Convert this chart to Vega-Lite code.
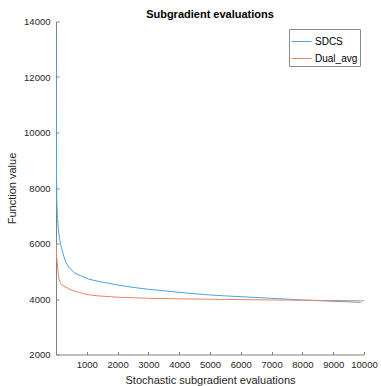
{
  "$schema": "https://vega.github.io/schema/vega-lite/v6.json",
  "width": 308,
  "height": 333,
  "autosize": {"type": "none"},
  "padding": {"left": 56, "top": 21.5, "right": 17, "bottom": 31.5},
  "background": "white",
  "config": {
    "font": "Liberation Sans",
    "view": {"stroke": null},
    "axis": {"grid": false, "domainColor": "#808080", "tickColor": "#808080", "labelColor": "#262626", "titleColor": "#262626", "labelFontSize": 9.5, "titleFontSize": 11, "titleFontWeight": "normal", "tickSize": -3, "domainWidth": 1, "tickWidth": 1, "labelOverlap": false, "labelFlush": false}
  },
  "title": {"text": "Subgradient evaluations", "fontSize": 11, "fontWeight": "bold", "color": "#000000", "offset": -3, "anchor": "middle"},
  "data": {"values": [
    {"x": 1, "y": 13450, "s": "SDCS"},
    {"x": 8, "y": 10500, "s": "SDCS"},
    {"x": 18, "y": 8400, "s": "SDCS"},
    {"x": 28, "y": 7450, "s": "SDCS"},
    {"x": 50, "y": 6900, "s": "SDCS"},
    {"x": 80, "y": 6480, "s": "SDCS"},
    {"x": 120, "y": 6150, "s": "SDCS"},
    {"x": 170, "y": 5880, "s": "SDCS"},
    {"x": 250, "y": 5550, "s": "SDCS"},
    {"x": 330, "y": 5300, "s": "SDCS"},
    {"x": 450, "y": 5100, "s": "SDCS"},
    {"x": 620, "y": 4930, "s": "SDCS"},
    {"x": 800, "y": 4840, "s": "SDCS"},
    {"x": 1050, "y": 4720, "s": "SDCS"},
    {"x": 1400, "y": 4630, "s": "SDCS"},
    {"x": 1750, "y": 4560, "s": "SDCS"},
    {"x": 2000, "y": 4506, "s": "SDCS"},
    {"x": 2500, "y": 4420, "s": "SDCS"},
    {"x": 3000, "y": 4350, "s": "SDCS"},
    {"x": 3500, "y": 4295, "s": "SDCS"},
    {"x": 4000, "y": 4242, "s": "SDCS"},
    {"x": 4500, "y": 4190, "s": "SDCS"},
    {"x": 5000, "y": 4145, "s": "SDCS"},
    {"x": 5500, "y": 4112, "s": "SDCS"},
    {"x": 6000, "y": 4084, "s": "SDCS"},
    {"x": 6500, "y": 4055, "s": "SDCS"},
    {"x": 7000, "y": 4025, "s": "SDCS"},
    {"x": 7500, "y": 3995, "s": "SDCS"},
    {"x": 8000, "y": 3964, "s": "SDCS"},
    {"x": 8500, "y": 3940, "s": "SDCS"},
    {"x": 9000, "y": 3917, "s": "SDCS"},
    {"x": 9500, "y": 3898, "s": "SDCS"},
    {"x": 9900, "y": 3880, "s": "SDCS"},
    {"x": 0, "y": 6015, "s": "Dual_avg"},
    {"x": 10, "y": 5700, "s": "Dual_avg"},
    {"x": 25, "y": 5450, "s": "Dual_avg"},
    {"x": 45, "y": 5290, "s": "Dual_avg"},
    {"x": 70, "y": 4950, "s": "Dual_avg"},
    {"x": 100, "y": 4700, "s": "Dual_avg"},
    {"x": 150, "y": 4560, "s": "Dual_avg"},
    {"x": 200, "y": 4500, "s": "Dual_avg"},
    {"x": 295, "y": 4445, "s": "Dual_avg"},
    {"x": 450, "y": 4340, "s": "Dual_avg"},
    {"x": 675, "y": 4264, "s": "Dual_avg"},
    {"x": 900, "y": 4190, "s": "Dual_avg"},
    {"x": 1107, "y": 4145, "s": "Dual_avg"},
    {"x": 1400, "y": 4110, "s": "Dual_avg"},
    {"x": 1756, "y": 4083, "s": "Dual_avg"},
    {"x": 2000, "y": 4065, "s": "Dual_avg"},
    {"x": 3000, "y": 4025, "s": "Dual_avg"},
    {"x": 4000, "y": 4005, "s": "Dual_avg"},
    {"x": 5000, "y": 3992, "s": "Dual_avg"},
    {"x": 6000, "y": 3978, "s": "Dual_avg"},
    {"x": 7000, "y": 3965, "s": "Dual_avg"},
    {"x": 8000, "y": 3955, "s": "Dual_avg"},
    {"x": 9000, "y": 3945, "s": "Dual_avg"},
    {"x": 10000, "y": 3935, "s": "Dual_avg"}
  ]},
  "mark": {"type": "line", "strokeWidth": 1, "clip": true},
  "encoding": {
    "x": {"field": "x", "type": "quantitative", "scale": {"domain": [0, 10000], "nice": false},
      "axis": {"title": "Stochastic subgradient evaluations", "values": [1000, 2000, 3000, 4000, 5000, 6000, 7000, 8000, 9000, 10000], "format": "d", "labelPadding": 8, "titlePadding": 5}},
    "y": {"field": "y", "type": "quantitative", "scale": {"domain": [2000, 14000], "nice": false},
      "axis": {"title": "Function value", "values": [2000, 4000, 6000, 8000, 10000, 12000, 14000], "format": "d", "labelPadding": 9, "titlePadding": 6}},
    "color": {"field": "s", "type": "nominal",
      "scale": {"domain": ["SDCS", "Dual_avg"], "range": ["#4DA3DF", "#EC8462"]},
      "legend": {"title": null, "orient": "none", "legendX": 233, "legendY": 7.5, "symbolType": "stroke", "symbolSize": 400, "symbolStrokeWidth": 1, "labelFontSize": 10, "labelColor": "#000000", "labelOffset": 3, "padding": 2, "rowPadding": 1, "strokeColor": "#8c8c8c", "fillColor": "white", "labelLimit": 100}}
  }
}
